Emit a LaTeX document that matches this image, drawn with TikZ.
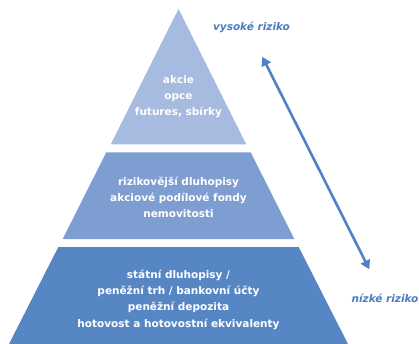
\documentclass[tikz,border=0pt]{standalone}
\usepackage{fontspec}
\setmainfont{DejaVu Sans}
\usetikzlibrary{arrows.meta}
\definecolor{lvlA}{RGB}{167,186,223}
\definecolor{lvlB}{RGB}{126,158,210}
\definecolor{lvlC}{RGB}{87,134,196}
\definecolor{arrowc}{RGB}{82,130,198}
\definecolor{labc}{RGB}{78,122,192}
\tikzset{
  layertext/.style={text=white, font=\fontsize{10.5}{16.3}\selectfont\bfseries, align=center},
  risklabel/.style={text=labc, font=\fontsize{10.5}{13}\selectfont\bfseries\itshape},
}
\begin{document}
\begin{tikzpicture}[x=1pt,y=-1pt]
\useasboundingbox (0,0) rectangle (419,344);
% layers
\fill[lvlA] (178.5,9) -- (246.2,144.3) -- (110.8,144.3) -- cycle;
\fill[lvlB] (106.3,152.3) -- (250.7,152.3) -- (294.3,239) -- (62.7,239) -- cycle;
\fill[lvlC] (58.3,247) -- (298.7,247) -- (348.5,345) -- (8.5,345) -- cycle;
% texts
\node[layertext] (top) at (178.5,96.5) {akcie\\opce\\futures, sbírky};
\node[layertext] (mid) at (178.5,197.5) {rizikovější dluhopisy\\akciové podílové fondy\\nemovitosti};
\node[layertext] (bot) at (178.5,299.5) {státní dluhopisy /\\peněžní trh / bankovní účty\\peněžní depozita\\hotovost a hotovostní ekvivalenty};
\node[risklabel] (hi) at (251.5,27.5) {vysoké riziko};
\node[risklabel] (lo) at (385,298) {nízké riziko};
% arrow
\coordinate (aup) at (262.3,56.7);
\coordinate (adn) at (369.3,269.3);
\draw[arrowc, line width=2.6pt, {Triangle[length=9pt,width=10pt]}-{Triangle[length=9pt,width=10pt]}] (aup) -- (adn);
\end{tikzpicture}
\end{document}
